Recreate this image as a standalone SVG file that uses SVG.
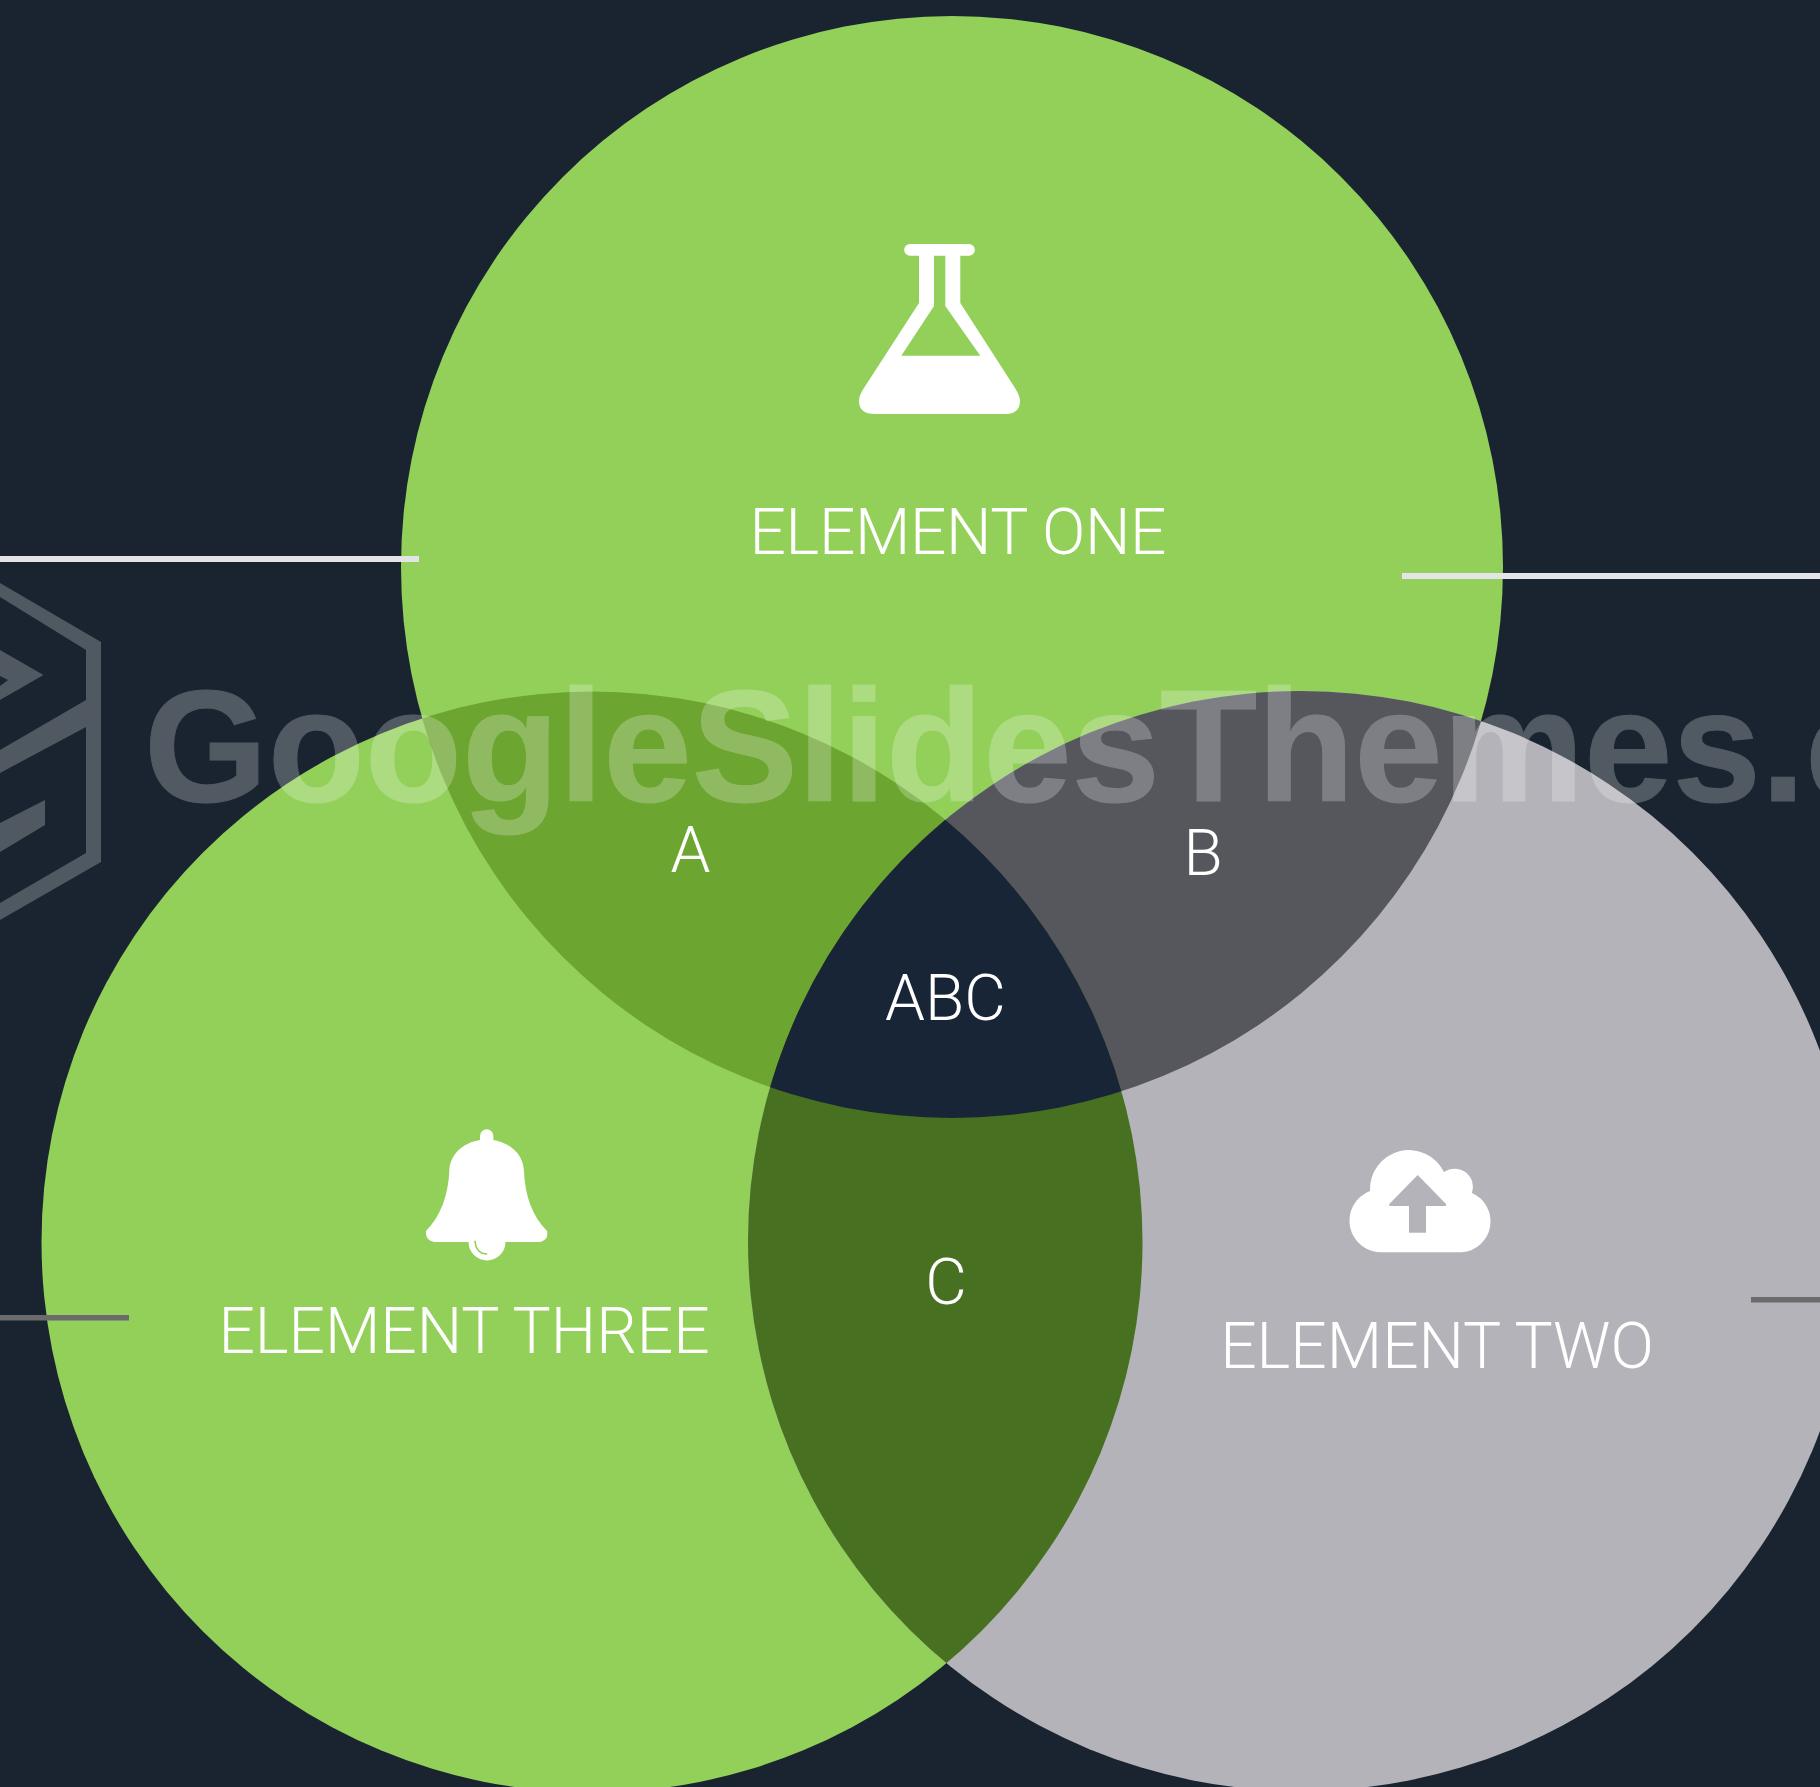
<svg xmlns="http://www.w3.org/2000/svg" width="1820" height="1787" viewBox="0 0 1820 1787">
<defs>
<style>
.green{fill:#92d05a}
.gray{fill:#b4b3b9}
.lbl{font-family:Roboto,"Liberation Sans",sans-serif;font-weight:300;fill:#fff;text-anchor:middle}
.big{font-size:64px}
.icon{fill:#fff;fill-rule:evenodd}
</style>
<clipPath id="cLeft"><circle cx="592" cy="1242" r="550.500"/></clipPath>
<clipPath id="cRight"><ellipse cx="1301" cy="1241" rx="553" ry="550"/></clipPath>
<clipPath id="cLR" clip-path="url(#cLeft)"><ellipse cx="1301" cy="1241" rx="553" ry="550"/></clipPath>
</defs>
<rect width="1820" height="1787" fill="#1a2430"/>
<g id="node-one"><circle class="green" cx="952" cy="567" r="551"/></g>
<g id="node-three"><circle class="green" cx="592" cy="1242" r="550.500"/></g>
<g id="node-two"><ellipse class="gray" cx="1301" cy="1241" rx="553" ry="550"/></g>
<g id="region-a"><circle cx="952" cy="567" r="551" fill="#6ca530" clip-path="url(#cLeft)"/></g>
<g id="region-b"><circle cx="952" cy="567" r="551" fill="#56575d" clip-path="url(#cRight)"/></g>
<g id="region-c"><circle cx="592" cy="1242" r="550.500" fill="#487021" clip-path="url(#cRight)"/></g>
<g id="region-abc"><circle cx="952" cy="567" r="551" fill="#172537" clip-path="url(#cLR)"/></g>
<g id="connectors">
<rect x="0" y="556" width="419" height="6" fill="#e3e4e8"/>
<rect x="1402" y="573" width="418" height="6" fill="#e3e4e8"/>
<rect x="0" y="1315" width="129" height="5.500" fill="#6b6a6c"/>
<rect x="1751" y="1297" width="69" height="5.500" fill="#6b6a6c"/>
</g>
<g id="watermark">
<text x="144" y="801" font-family="'Liberation Sans',Arial,sans-serif" font-weight="700" font-size="159" fill="#fff" stroke="#fff" stroke-width="1" opacity=".24">GoogleSlidesThemes.c</text>
<g fill="#fff" fill-opacity=".24">
<path d="M0 583 L101 642 V862 L0 920 V903 L86 853 V727 L0 773 V750 L86 700 V650 L0 597 Z"/>
<path d="M0 650 L43.500 675 L0 700 V686 L8 680 L0 676 Z"/>
<path d="M45 800 V825 L0 852 V823 Z"/>
</g>
</g>
<g id="icon-flask"><path class="icon" d="M910 244H969a5.800 5.800 0 0 1 0 11.700H960.300V303L1015 388Q1020 396 1020 401Q1020 414 1005 414H875Q859 414 859 401Q859 395 864 388L919 303V255.700H910a5.800 5.800 0 0 1 0-11.700ZM934 255.700H945.300V306L980.300 355.700H901.300L934 306Z"/></g>
<g id="icon-bell">
<path class="icon" d="M480 1140V1136a6.700 6.700 0 0 1 13.400 0V1140C511 1143 524 1155 524 1172C525 1195 532 1216 547 1231Q549 1240 540 1242H505.500A18.500 18.500 0 0 1 468.500 1242H434Q425 1240 426 1231C441 1216 448 1195 449.300 1172C449.300 1155 462 1143 480 1140Z"/>
<path d="M475 1240.700Q476 1254 487.300 1254" fill="none" stroke="#92d05a" stroke-width="1.600"/>
</g>
<g id="icon-cloud"><path class="icon" d="M1383.300 1252.300A31.700 31.700 0 0 1 1370 1191A39 39 0 0 1 1444 1172A18.400 18.400 0 0 1 1472 1193A31 31 0 0 1 1462 1252.300ZM1417.700 1175L1389.300 1204V1206H1409V1232.700H1426V1206H1446V1204Z"/></g>
<g id="labels">
<text class="lbl big" x="958" y="553.500" textLength="417">ELEMENT ONE</text>
<text class="lbl big" x="464" y="1353">ELEMENT THREE</text>
<text class="lbl big" x="1437" y="1368">ELEMENT TWO</text>
<text class="lbl big" x="690.500" y="872">A</text>
<text class="lbl big" x="1203" y="875">B</text>
<text class="lbl big" x="945.500" y="1020">ABC</text>
<text class="lbl big" x="946" y="1304">C</text>
</g>
</svg>
